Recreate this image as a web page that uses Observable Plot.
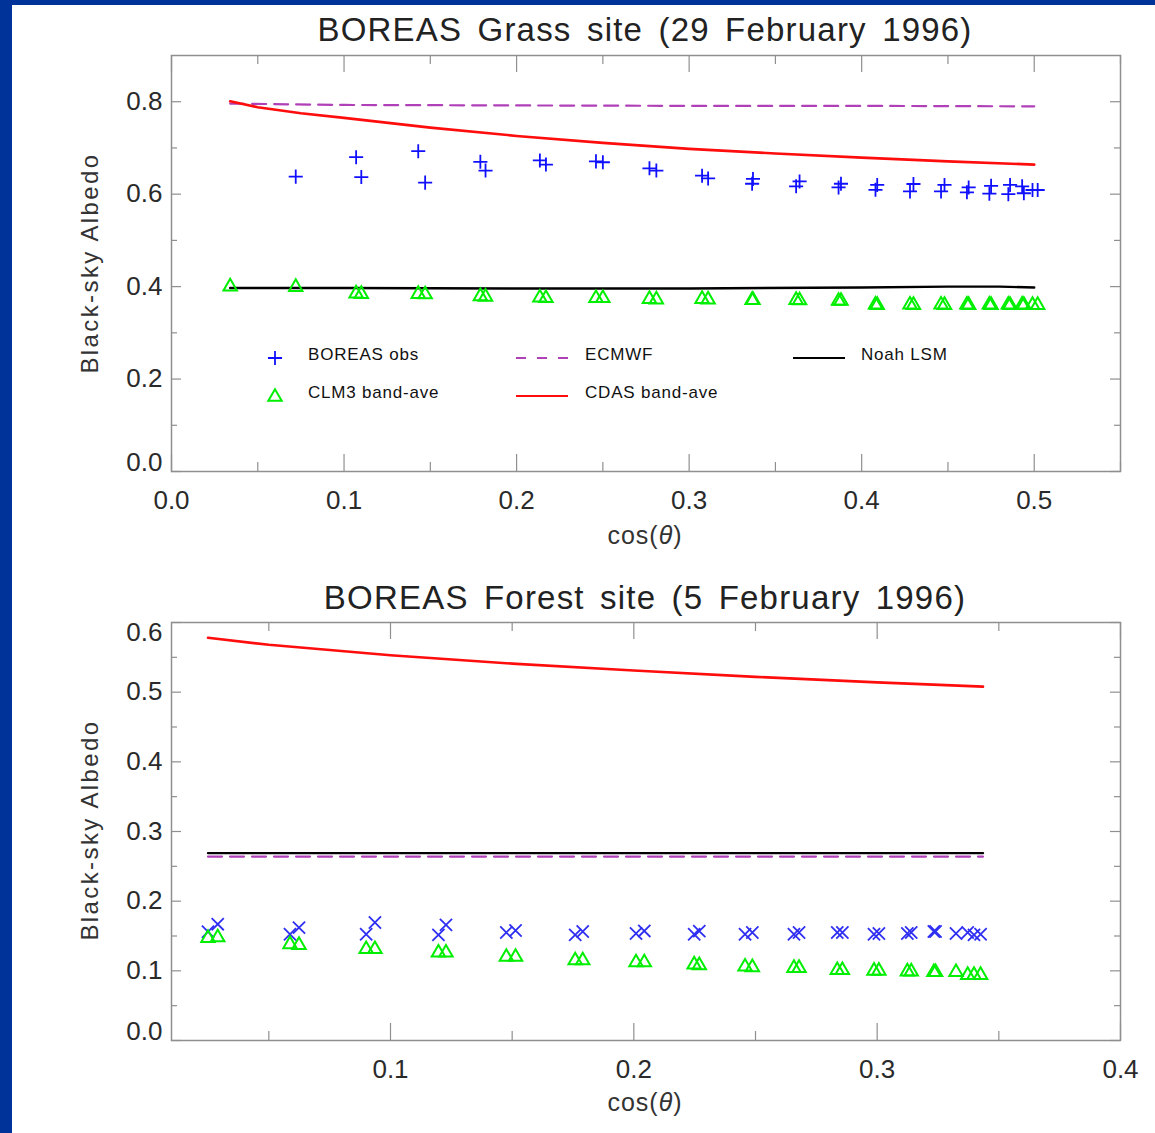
<!DOCTYPE html>
<html>
<head>
<meta charset="utf-8">
<script src="https://cdn.jsdelivr.net/npm/d3@7"></script>
<script src="https://cdn.jsdelivr.net/npm/@observablehq/plot@0.6"></script>
<style>
  html, body { margin: 0; padding: 0; }
  body { background: #003399; width: 1155px; height: 1133px; overflow: hidden; position: relative;
         font-family: "Liberation Sans", Arial, sans-serif; }
  #page { position: absolute; left: 12px; top: 5px; width: 1143px; height: 1128px; background: #fff; }
  .abs { position: absolute; white-space: nowrap; color: #222; }
  .title { font-size: 33px; letter-spacing: 1.2px; word-spacing: 5px; transform: translate(-50%, -50%); }
  .xlab { font-size: 25px; letter-spacing: 1px; transform: translate(-50%, -50%); color: #333; }
  .ylab { font-size: 24px; letter-spacing: 2.4px; transform: translate(-50%, -50%) rotate(-90deg); color: #333; }
  .panel { position: absolute; left: 0; }
  .legend { position: absolute; left: 0; top: 0; pointer-events: none; }
</style>
</head>
<body>
<div id="page"></div>
<div id="root"></div>
<script>
// ---------------- DATA ----------------
// Top panel: BOREAS Grass site (29 February 1996)
const grassObsX = [0.072, 0.107, 0.110, 0.143, 0.147, 0.179, 0.182, 0.2135, 0.217, 0.246, 0.250, 0.277, 0.281,
  0.3075, 0.311, 0.3365, 0.337, 0.362, 0.364, 0.3866, 0.388, 0.408, 0.409, 0.428, 0.430, 0.446, 0.448,
  0.461, 0.462, 0.474, 0.475, 0.485, 0.486, 0.493, 0.494, 0.499, 0.502];
const grassObsY = [0.638, 0.680, 0.637, 0.693, 0.625, 0.670, 0.651, 0.673, 0.664, 0.671, 0.669, 0.656, 0.651,
  0.640, 0.634, 0.6225, 0.633, 0.617, 0.6275, 0.6145, 0.6225, 0.6095, 0.620, 0.606, 0.622, 0.606, 0.620,
  0.604, 0.6145, 0.601, 0.618, 0.600, 0.620, 0.617, 0.602, 0.609, 0.609];

const grassClmX = [0.034, 0.072, 0.107, 0.110, 0.143, 0.147, 0.179, 0.182, 0.2135, 0.217, 0.246, 0.250, 0.277, 0.281,
  0.3075, 0.311, 0.3365, 0.337, 0.362, 0.364, 0.3866, 0.388, 0.408, 0.409, 0.428, 0.430, 0.446, 0.448,
  0.461, 0.462, 0.474, 0.475, 0.485, 0.486, 0.493, 0.494, 0.499, 0.502];
const grassClmY = [0.400, 0.399, 0.385, 0.384, 0.384, 0.383, 0.379, 0.378, 0.376, 0.375, 0.375, 0.375, 0.373, 0.372,
  0.373, 0.372, 0.371, 0.371, 0.371, 0.370, 0.369, 0.369, 0.361, 0.360, 0.361, 0.360, 0.361, 0.360,
  0.361, 0.360, 0.361, 0.360, 0.361, 0.360, 0.361, 0.360, 0.360, 0.360];

const grassEcmwfX = [0.034, 0.1, 0.2, 0.3, 0.4, 0.5];
const grassEcmwfY = [0.796, 0.793, 0.792, 0.791, 0.791, 0.790];

const grassNoahX = [0.034, 0.1, 0.2, 0.3, 0.4, 0.45, 0.48, 0.5];
const grassNoahY = [0.397, 0.397, 0.396, 0.396, 0.398, 0.400, 0.400, 0.398];

const grassCdasX = [0.034, 0.05, 0.075, 0.1, 0.15, 0.2, 0.25, 0.3, 0.35, 0.4, 0.45, 0.5];
const grassCdasY = [0.801, 0.788, 0.775, 0.765, 0.744, 0.726, 0.711, 0.698, 0.688, 0.679, 0.671, 0.664];

// Bottom panel: BOREAS Forest site (5 February 1996)
const forestObsX = [0.025, 0.029, 0.0587, 0.0624, 0.090, 0.0936, 0.1197, 0.1228, 0.1476, 0.1514, 0.1759, 0.179,
  0.2009, 0.2043, 0.2248, 0.2269, 0.2457, 0.2487, 0.2658, 0.2679, 0.2836, 0.2857, 0.2987, 0.3007,
  0.3124, 0.314, 0.3233, 0.324, 0.3324, 0.3372, 0.3398, 0.3425];
const forestObsY = [0.156, 0.167, 0.1526, 0.162, 0.1526, 0.1693, 0.1516, 0.166, 0.155, 0.158, 0.1516, 0.1564,
  0.1535, 0.1573, 0.1526, 0.157, 0.1526, 0.155, 0.1526, 0.155, 0.155, 0.155, 0.1526, 0.1535,
  0.1535, 0.155, 0.1564, 0.1564, 0.1535, 0.155, 0.1516, 0.1526];

const forestClmX = [0.025, 0.029, 0.0587, 0.0624, 0.090, 0.0936, 0.1197, 0.1228, 0.1476, 0.1514, 0.1759, 0.179,
  0.2009, 0.2043, 0.2248, 0.2269, 0.2457, 0.2487, 0.2658, 0.2679, 0.2836, 0.2857, 0.2987, 0.3007,
  0.3124, 0.314, 0.3233, 0.324, 0.3324, 0.3372, 0.3398, 0.3425];
const forestClmY = [0.147, 0.148, 0.138, 0.137, 0.131, 0.131, 0.126, 0.126, 0.120, 0.120, 0.115, 0.115,
  0.112, 0.112, 0.109, 0.108, 0.106, 0.105, 0.104, 0.104, 0.101, 0.101, 0.100, 0.100,
  0.099, 0.099, 0.098, 0.098, 0.098, 0.094, 0.094, 0.094];

const forestEcmwfX = [0.025, 0.3435];
const forestEcmwfY = [0.264, 0.264];

const forestNoahX = [0.025, 0.3435];
const forestNoahY = [0.269, 0.269];

const forestCdasX = [0.025, 0.05, 0.1, 0.15, 0.2, 0.25, 0.3, 0.3435];
const forestCdasY = [0.578, 0.568, 0.553, 0.541, 0.531, 0.522, 0.514, 0.508];

// Axis ticks / labels
const grassXMajor = [0, 0.1, 0.2, 0.3, 0.4, 0.5];
const grassXMinor = [0.05, 0.15, 0.25, 0.35, 0.45, 0.55];
const grassYMajor = [0, 0.2, 0.4, 0.6, 0.8];
const grassYMinor = [0.1, 0.3, 0.5, 0.7];
const forestXMajor = [0.1, 0.2, 0.3, 0.4];
const forestXMinor = [0.05, 0.15, 0.25, 0.35];
const forestYMajor = [0, 0.1, 0.2, 0.3, 0.4, 0.5, 0.6];
const forestYMinor = [0.05, 0.15, 0.25, 0.35, 0.45, 0.55];

const legendItems = [
  {name: "BOREAS obs", kind: "plus"},
  {name: "CLM3 band-ave", kind: "triangle"},
  {name: "ECMWF", kind: "dash"},
  {name: "CDAS band-ave", kind: "red"},
  {name: "Noah LSM", kind: "black"}
];

// ---------------- STYLE ----------------
const C = {
  blue: "#1010ff", blueX: "#2f2ff2", green: "#00ee00", purple: "#b040b8",
  red: "#ff0d0d", black: "#000000", axis: "#8f8f8f", tickText: "#2a2a2a"
};
const FONT = "Liberation Sans, Arial, sans-serif";
const L = 171, R = 1120, W = 1155;
const PLUS_R = 4.6, TRI_R = 6.4, TIMES_R = 5.6;

const zip = (xs, ys) => xs.map((x, i) => ({x, y: ys[i]}));

function panel(o) {
  const innerH = o.frameBottom - o.frameTop;
  const innerW = R - L;
  const fmt = d => d.toFixed(1);
  const yMid = o.yMajor.filter(d => d !== o.yDomain[0] && d !== o.yDomain[1]);
  const yLow = o.yMajor.filter(d => d === o.yDomain[0]);
  const yHigh = o.yMajor.filter(d => d === o.yDomain[1]);
  const tickTxt = {fontSize: 26, fill: C.tickText, fontFamily: FONT, letterSpacing: "1.5px"};
  return Plot.plot({
    width: W, height: o.height,
    marginLeft: L, marginRight: W - R, marginTop: o.frameTop, marginBottom: o.height - o.frameBottom,
    x: {domain: o.xDomain, axis: null},
    y: {domain: o.yDomain, axis: null},
    style: {background: "transparent", fontFamily: FONT, overflow: "visible"},
    marks: [
      // data
      Plot.line(zip(o.ecmwfX, o.ecmwfY), {x: "x", y: "y", stroke: C.purple, strokeWidth: 2.2, strokeDasharray: "14,8"}),
      Plot.line(zip(o.noahX, o.noahY), {x: "x", y: "y", stroke: C.black, strokeWidth: 2.4}),
      Plot.line(zip(o.cdasX, o.cdasY), {x: "x", y: "y", stroke: C.red, strokeWidth: 2.6}),
      Plot.dot(zip(o.obsX, o.obsY), {x: "x", y: "y", symbol: o.obsSymbol, r: o.obsR, stroke: o.obsColor, strokeWidth: 1.8, fill: "none"}),
      Plot.dot(zip(o.clmX, o.clmY), {x: "x", y: "y", symbol: "triangle2", r: TRI_R, stroke: C.green, strokeWidth: 2, fill: "none"}),
      // frame + inward ticks on all four sides
      Plot.frame({stroke: C.axis, strokeWidth: 1.5}),
      Plot.tickX(o.xMajor, {x: d => d, insetTop: innerH - 17, stroke: C.axis, strokeWidth: 1.2}),
      Plot.tickX(o.xMajor, {x: d => d, insetBottom: innerH - 17, stroke: C.axis, strokeWidth: 1.2}),
      Plot.tickX(o.xMinor, {x: d => d, insetTop: innerH - 9, stroke: C.axis, strokeWidth: 1.2}),
      Plot.tickX(o.xMinor, {x: d => d, insetBottom: innerH - 9, stroke: C.axis, strokeWidth: 1.2}),
      Plot.tickY(o.yMajor, {y: d => d, insetRight: innerW - 10, stroke: C.axis, strokeWidth: 1.2}),
      Plot.tickY(o.yMajor, {y: d => d, insetLeft: innerW - 10, stroke: C.axis, strokeWidth: 1.2}),
      Plot.tickY(o.yMinor, {y: d => d, insetRight: innerW - 6, stroke: C.axis, strokeWidth: 1.2}),
      Plot.tickY(o.yMinor, {y: d => d, insetLeft: innerW - 6, stroke: C.axis, strokeWidth: 1.2}),
      // tick labels
      Plot.text(o.xMajor, {x: d => d, frameAnchor: "bottom", dy: 37, text: fmt, ...tickTxt}),
      Plot.text(yMid, {y: d => d, frameAnchor: "left", dx: -9, textAnchor: "end", text: fmt, ...tickTxt}),
      Plot.text(yLow, {y: d => d, frameAnchor: "left", dx: -9, dy: -9, textAnchor: "end", text: fmt, ...tickTxt}),
      Plot.text(yHigh, {y: d => d, frameAnchor: "left", dx: -9, dy: 10, textAnchor: "end", text: fmt, ...tickTxt})
    ]
  });
}

const root = document.getElementById("root");

function place(el, top) {
  el.classList.add("panel");
  el.style.top = top + "px";
  root.appendChild(el);
}

const top1 = panel({
  height: 560, frameTop: 55, frameBottom: 471,
  xDomain: [0, 0.55], yDomain: [0, 0.9],
  xMajor: grassXMajor, xMinor: grassXMinor, yMajor: grassYMajor, yMinor: grassYMinor,
  obsX: grassObsX, obsY: grassObsY, obsSymbol: "plus", obsR: PLUS_R, obsColor: C.blue,
  clmX: grassClmX, clmY: grassClmY,
  ecmwfX: grassEcmwfX, ecmwfY: grassEcmwfY, noahX: grassNoahX, noahY: grassNoahY,
  cdasX: grassCdasX, cdasY: grassCdasY
});
place(top1, 0);

const bot = panel({
  height: 560, frameTop: 55, frameBottom: 473,
  xDomain: [0.01, 0.4], yDomain: [0, 0.6],
  xMajor: forestXMajor, xMinor: forestXMinor, yMajor: forestYMajor, yMinor: forestYMinor,
  obsX: forestObsX, obsY: forestObsY, obsSymbol: "times", obsR: TIMES_R, obsColor: C.blueX,
  clmX: forestClmX, clmY: forestClmY,
  ecmwfX: forestEcmwfX, ecmwfY: forestEcmwfY, noahX: forestNoahX, noahY: forestNoahY,
  cdasX: forestCdasX, cdasY: forestCdasY
});
place(bot, 567);

// ---------------- TEXT OVERLAYS ----------------
function addText(cls, html, x, y) {
  const d = document.createElement("div");
  d.className = "abs " + cls;
  d.style.left = x + "px";
  d.style.top = y + "px";
  d.innerHTML = html;
  root.appendChild(d);
}
addText("title", "BOREAS Grass site (29 February 1996)", 645, 30);
addText("title", "BOREAS Forest site (5 February 1996)", 645, 598);
addText("xlab", "cos(<i>θ</i>)", 645, 535);
addText("xlab", "cos(<i>θ</i>)", 645, 1102);
addText("ylab", "Black-sky Albedo", 90, 263);
addText("ylab", "Black-sky Albedo", 90, 830);

// ---------------- LEGEND (top panel) ----------------
const lg = d3.create("svg").attr("class", "legend").attr("width", W).attr("height", 560)
  .style("font-family", FONT);
const colX = [275, 542, 819];
const rowY = [356, 394];
const txtX = [308, 585, 861];
const slots = {plus: [0, 0], triangle: [0, 1], dash: [1, 0], red: [1, 1], black: [2, 0]};
legendItems.forEach(it => {
  const [c, r] = slots[it.kind];
  const cx = colX[c], cy = rowY[r];
  if (it.kind === "plus") {
    lg.append("path").attr("transform", `translate(${cx},${cy + 2})`)
      .attr("d", d3.symbol(d3.symbolPlus, Math.PI * PLUS_R * PLUS_R)()).attr("stroke", C.blue).attr("stroke-width", 1.8).attr("fill", "none");
  } else if (it.kind === "triangle") {
    lg.append("path").attr("transform", `translate(${cx},${cy + 3})`)
      .attr("d", d3.symbol(d3.symbolTriangle2, Math.PI * TRI_R * TRI_R)()).attr("stroke", C.green).attr("stroke-width", 2).attr("fill", "none");
  } else {
    const color = it.kind === "dash" ? C.purple : it.kind === "red" ? C.red : C.black;
    lg.append("line").attr("x1", cx - 26).attr("x2", cx + 26).attr("y1", cy + 2).attr("y2", cy + 2)
      .attr("stroke", color).attr("stroke-width", it.kind === "dash" ? 1.8 : 2)
      .attr("stroke-dasharray", it.kind === "dash" ? "10,11" : null);
  }
  lg.append("text").attr("x", txtX[c]).attr("y", cy - 2).attr("dominant-baseline", "central")
    .attr("font-size", 17).attr("letter-spacing", "0.8px").attr("fill", "#111").text(it.name);
});
root.appendChild(lg.node());
</script>
</body>
</html>
